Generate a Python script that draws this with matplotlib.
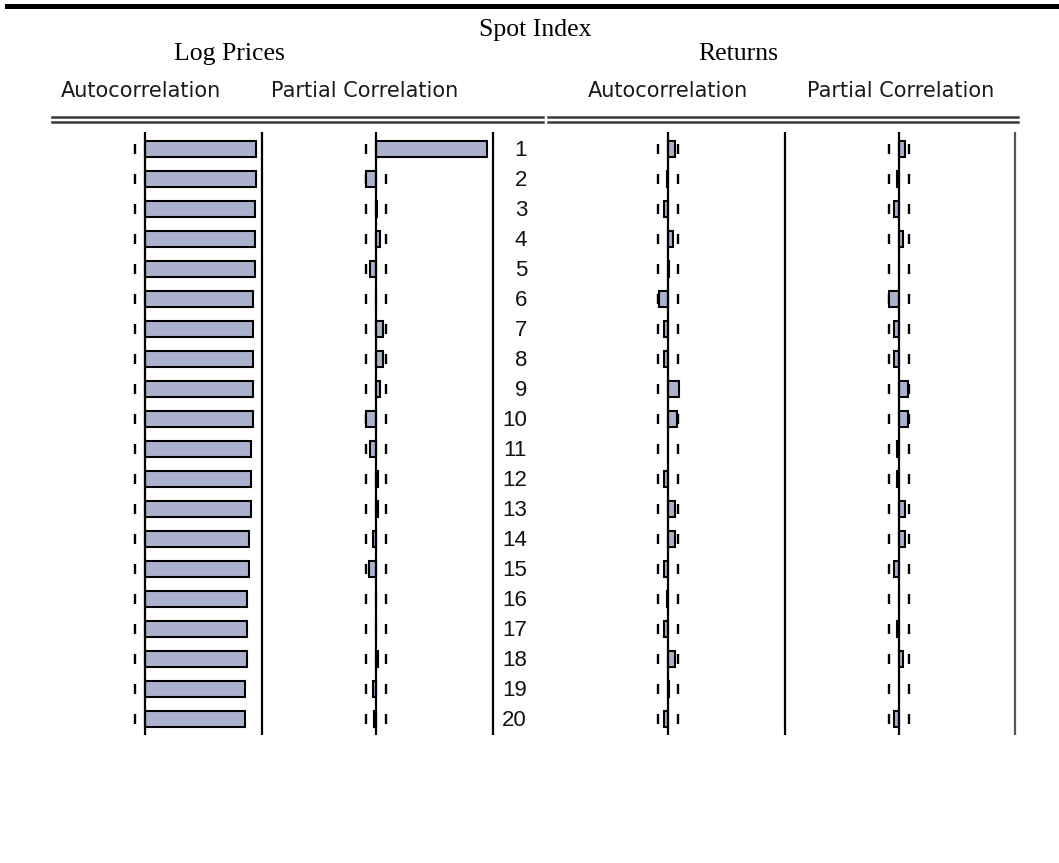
import matplotlib
matplotlib.use("Agg")
import matplotlib.pyplot as plt
from matplotlib.lines import Line2D
from matplotlib.transforms import blended_transform_factory

# ---- correlogram values (lags 1..20) ----
lags = list(range(1, 21))

log_acf = [0.955, 0.955, 0.941, 0.941, 0.941, 0.924, 0.924, 0.924, 0.924, 0.924,
           0.907, 0.907, 0.907, 0.890, 0.890, 0.873, 0.873, 0.873, 0.856, 0.856]
log_pacf = [0.955, -0.083, 0.012, 0.034, -0.050, 0.003, 0.057, 0.057, 0.037, -0.086,
            -0.050, 0.014, 0.014, -0.030, -0.057, 0.003, 0.002, 0.014, -0.030, -0.014]
ret_acf = [0.057, -0.014, -0.037, 0.037, 0.002, -0.080, -0.037, -0.037, 0.089, 0.077,
           0.001, -0.037, 0.057, 0.057, -0.037, -0.014, -0.037, 0.057, 0.002, -0.037]
ret_pacf = [0.057, -0.014, -0.040, 0.037, 0.002, -0.083, -0.037, -0.037, 0.077, 0.077,
            -0.014, -0.014, 0.057, 0.057, -0.037, 0.002, -0.014, 0.037, 0.001, -0.037]

conf_band = 0.086  # approx. 2/sqrt(T)

title = "Spot Index"
section_titles = ["Log Prices", "Returns"]
column_titles = ["Autocorrelation", "Partial Correlation",
                 "Autocorrelation", "Partial Correlation"]

# ---- layout (pixels) ----
W, H = 1059, 863
fig = plt.figure(figsize=(W / 100, H / 100), dpi=100)


def fx(x):
    return x / W


def fy(y):
    return 1 - y / H


PX = 116.5          # pixels per unit of correlation
ROW, ROW1 = 30, 149  # row pitch and centre of first row
TOP, BOT = 131.5, 735
BAR_COLOR = "#AAB2CE"

panels = [(log_acf, 145.0, "black"), (log_pacf, 376.0, "black"),
          (ret_acf, 668.3, "black"), (ret_pacf, 898.7, "#555555")]

y_top = 1 - (ROW1 - TOP) / ROW
y_bot = lags[-1] + (BOT - (ROW1 + (len(lags) - 1) * ROW)) / ROW

axes = []
for vals, x0, edge_col in panels:
    extra = 4
    ax = fig.add_axes([fx(x0 - PX), fy(BOT), (2 * PX + extra) / W, (BOT - TOP) / H])
    ax.set_xlim(-1, 1 + extra / PX)
    ax.set_ylim(y_bot, y_top)
    ax.axis("off")
    # +/- 2 s.e. dashes
    for b in (-conf_band, conf_band):
        ax.vlines([b] * len(lags), [l - 0.18 for l in lags], [l + 0.18 for l in lags],
                  color="black", lw=1.7, zorder=2)
    ax.barh(lags, vals, height=0.52, color=BAR_COLOR, edgecolor="black",
            linewidth=1.5, zorder=3)
    ax.axvline(0, color="black", lw=1.6, zorder=4)
    ax.axvline(1.0, color=edge_col, lw=1.6, zorder=4)
    axes.append(ax)

# lag numbers
tr = blended_transform_factory(fig.transFigure, axes[1].transData)
for l in lags:
    axes[1].text(fx(527), l + 0.05, str(l), transform=tr, ha="right", va="center",
                 family=["Liberation Sans", "DejaVu Sans"], fontsize=16,
                 color="#111111")

# rules
fig.add_artist(Line2D([fx(7), fx(1059)], [fy(6.5), fy(6.5)], color="black", lw=3.6))
for yy in (116.5, 122):
    fig.add_artist(Line2D([fx(52), fx(543)], [fy(yy), fy(yy)], color="#3a3a3a", lw=1.8))
    fig.add_artist(Line2D([fx(548), fx(1018)], [fy(yy), fy(yy)], color="#3a3a3a", lw=1.8))

# headings
serif = ["Liberation Serif", "DejaVu Serif"]
fig.text(fx(535), fy(36), title, ha="center", va="baseline", family=serif, fontsize=18.5)
fig.text(fx(229), fy(60), section_titles[0], ha="center", va="baseline", family=serif, fontsize=18.5)
fig.text(fx(738), fy(60), section_titles[1], ha="center", va="baseline", family=serif, fontsize=18.5)

for cx, txt in zip([141, 365, 668, 901], column_titles):
    fig.text(fx(cx), fy(97), txt, ha="center", va="baseline", family="DejaVu Sans",
             fontsize=15, color="#1a1a1a")

fig.savefig("out.png", dpi=100)
